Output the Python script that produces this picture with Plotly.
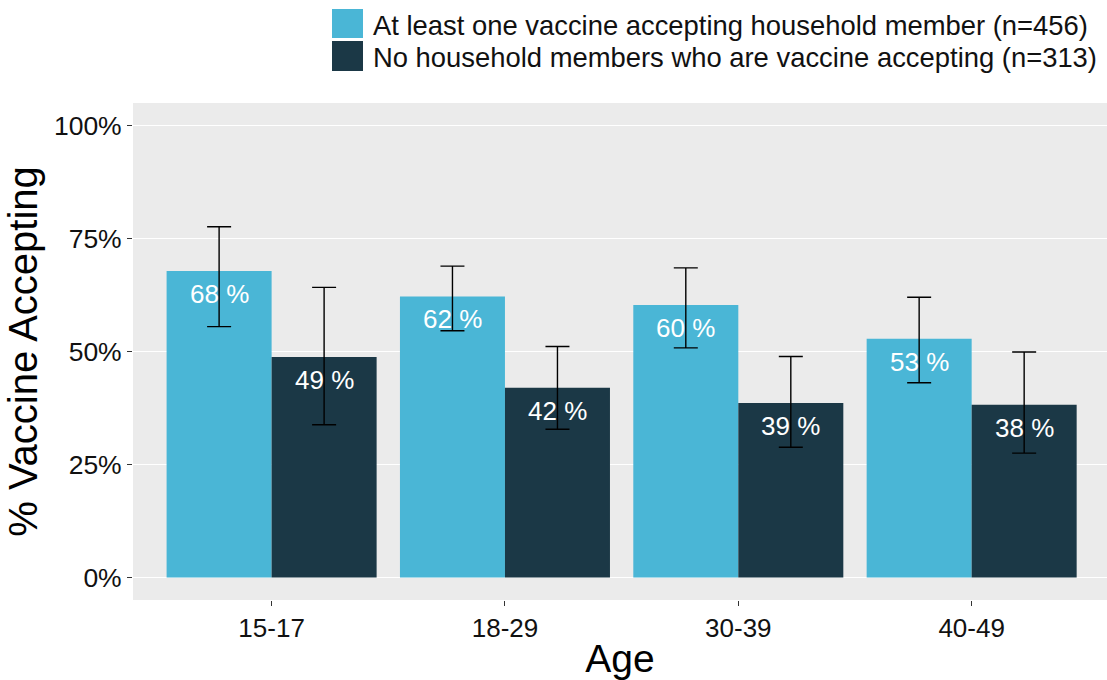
import plotly.graph_objects as go

# ---- data ----
ages = ["15-17", "18-29", "30-39", "40-49"]
series_names = [
    "At least one vaccine accepting household member (n=456)",
    "No household members who are vaccine accepting (n=313)",
]
accept_some = [67.8, 62.2, 60.3, 52.8]
accept_some_lo = [55.5, 54.6, 50.8, 43.1]
accept_some_hi = [77.6, 68.9, 68.5, 62.0]
accept_none = [48.8, 42.0, 38.6, 38.2]
accept_none_lo = [33.8, 32.8, 28.8, 27.5]
accept_none_hi = [64.2, 51.1, 48.9, 49.9]
y_ticks = [0, 25, 50, 75, 100]
y_ticklabels = ["0%", "25%", "50%", "75%", "100%"]

colors = ["#4AB6D6", "#1B3846"]
FONT = "Liberation Sans, Arial, sans-serif"

W, H = 1107, 680
L, R, T, B = 133, 0, 103, 80
pw, ph = W - L - R, H - T - B


def px_x(px):
    return (px - L) / pw


def px_y(py):
    return (H - B - py) / ph


fig = go.Figure()
series = [
    (accept_some, accept_some_lo, accept_some_hi),
    (accept_none, accept_none_lo, accept_none_hi),
]
for k, (vals, lo, hi) in enumerate(series):
    fig.add_trace(go.Bar(
        x=ages, y=vals, name=series_names[k],
        marker=dict(color=colors[k], line=dict(width=0)),
        error_y=dict(type="data", symmetric=False,
                     array=[h - v for h, v in zip(hi, vals)],
                     arrayminus=[v - l for v, l in zip(vals, lo)],
                     color="black", thickness=1.4, width=12),
        showlegend=False,
    ))

# value labels inside bars
offsets = [-0.225, 0.225]
for k, (vals, _, _) in enumerate(series):
    for i, v in enumerate(vals):
        fig.add_annotation(x=i + offsets[k], y=v, xref="x", yref="y",
                           text=f"{round(v)} %", showarrow=False,
                           yshift=-23, font=dict(family=FONT, size=26, color="white"))

# custom legend
key_rows = [(9, 38), (41, 71)]
for k, (y0, y1) in enumerate(key_rows):
    fig.add_shape(type="rect", xref="paper", yref="paper",
                  x0=px_x(332), x1=px_x(363), y0=px_y(y1), y1=px_y(y0),
                  fillcolor=colors[k], line=dict(width=0))
    fig.add_annotation(xref="paper", yref="paper", x=px_x(371), y=px_y((y0 + y1) / 2 + 2),
                       xanchor="left", yanchor="middle", text=series_names[k],
                       showarrow=False, font=dict(family=FONT, size=27.4, color="#111111"))

fig.update_layout(
    width=W, height=H,
    margin=dict(l=L, r=R, t=T, b=B, autoexpand=False),
    barmode="group", bargap=0.1, bargroupgap=0,
    plot_bgcolor="#EBEBEB", paper_bgcolor="white",
    font=dict(family=FONT, color="#111111"),
    showlegend=False,
)
fig.update_xaxes(
    range=[-0.594, 3.58], showgrid=False, zeroline=False,
    ticks="outside", ticklen=5, tickcolor="#333333", tickwidth=1,
    tickfont=dict(size=26, color="#111111"),
    title=dict(text="Age", font=dict(size=39, color="black"), standoff=8),
    automargin=False,
)
fig.update_yaxes(
    range=[-5, 105], tickvals=y_ticks, ticktext=y_ticklabels,
    showgrid=True, gridcolor="white", gridwidth=1.3, zeroline=False,
    ticks="outside", ticklen=5, tickcolor="#333333", tickwidth=1,
    tickfont=dict(size=26.5, color="#111111"),
    title=dict(text="% Vaccine Accepting", font=dict(size=40, color="black"), standoff=3),
    automargin=False,
)

fig.write_html("out.html")
